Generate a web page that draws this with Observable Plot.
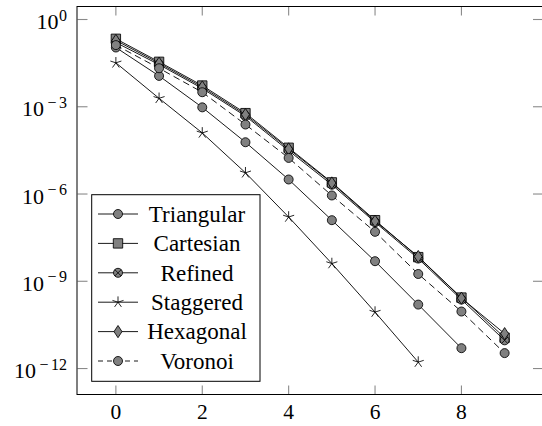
<!DOCTYPE html>
<html><head><meta charset="utf-8">
<script src="https://cdn.jsdelivr.net/npm/d3@7"></script>
<script src="https://cdn.jsdelivr.net/npm/@observablehq/plot@0.6"></script>
<style>
body{margin:0;background:#fff;}
#wrap{position:relative;width:542px;height:426px;overflow:hidden;font-family:"Liberation Serif","Times New Roman",serif;}
#legend{position:absolute;left:0;top:0;}
</style></head><body><div id="wrap"></div>
<script>
// ---- data ----
const steps = [0, 1, 2, 3, 4, 5, 6, 7, 8, 9];
const seriesNames = ["Triangular", "Cartesian", "Refined", "Staggered", "Hexagonal", "Voronoi"];
const triangular = [1.09e-1, 1.15e-2, 9.55e-4, 6.03e-5, 3.16e-6, 1.26e-7, 4.90e-9, 1.58e-10, 5.01e-12];
const cartesian  = [2.17e-1, 3.51e-2, 5.37e-3, 6.03e-4, 3.89e-5, 2.51e-6, 1.26e-7, 6.76e-9, 2.75e-10, 1.15e-11];
const refined    = [1.62e-1, 2.82e-2, 4.27e-3, 4.79e-4, 3.09e-5, 2.09e-6, 1.07e-7, 6.03e-9, 2.34e-10, 9.33e-12];
const staggered  = [3.24e-2, 1.95e-3, 1.26e-4, 5.37e-6, 1.62e-7, 4.07e-9, 8.71e-11, 1.66e-12];
const hexagonal  = [1.91e-1, 3.16e-2, 4.79e-3, 5.37e-4, 3.55e-5, 2.40e-6, 1.17e-7, 7.08e-9, 2.63e-10, 1.58e-11];
const voronoi    = [1.32e-1, 2.11e-2, 3.16e-3, 2.45e-4, 1.74e-5, 8.91e-7, 5.01e-8, 1.78e-9, 9.12e-11, 3.39e-12];
const xTicks = [0, 2, 4, 6, 8];
const yTicks = [1e0, 1e-3, 1e-6, 1e-9, 1e-12];
const xDomain = [-0.9, 9.9];
const yDomain = [1.28e-13, 2.8];

const valuesBySeries = {Triangular: triangular, Cartesian: cartesian, Refined: refined,
  Staggered: staggered, Hexagonal: hexagonal, Voronoi: voronoi};

const rows = seriesNames.flatMap(s => valuesBySeries[s].map((v, i) => ({series: s, x: steps[i], y: v})));

// ---- marker symbols (pgfplots-like) ----
const symSquare = {draw(ctx, size) {const r = Math.sqrt(size / Math.PI); ctx.rect(-r, -r, 2 * r, 2 * r);}};
const symDiamond = {draw(ctx, size) {const r = Math.sqrt(size / Math.PI);
  ctx.moveTo(0, -r * 1.3); ctx.lineTo(r * 0.85, 0); ctx.lineTo(0, r * 1.3); ctx.lineTo(-r * 0.85, 0); ctx.closePath();}};
const symStar = {draw(ctx, size) {const r = Math.sqrt(size / Math.PI);
  for (let k = 0; k < 5; k++) {const a = (-90 + 72 * k) * Math.PI / 180; ctx.moveTo(0, 0); ctx.lineTo(r * Math.cos(a), r * Math.sin(a));}}};
const symCirc = {draw(ctx, size) {const r = Math.sqrt(size / Math.PI); ctx.moveTo(r, 0); ctx.arc(0, 0, r, 0, 2 * Math.PI); ctx.closePath();}};
const symX = {draw(ctx, size) {const r = Math.sqrt(size / Math.PI) * 0.7071;
  ctx.moveTo(-r, -r); ctx.lineTo(r, r); ctx.moveTo(-r, r); ctx.lineTo(r, -r);}};

const GRAY = "#808080";
const styles = {
  Triangular: [{symbol: symCirc, r: 4.5, fill: GRAY}],
  Cartesian: [{symbol: symSquare, r: 4.7, fill: GRAY}],
  Refined: [{symbol: symCirc, r: 4.5, fill: GRAY}, {symbol: symX, r: 4.5, fill: "none"}],
  Staggered: [{symbol: symStar, r: 5.8, fill: "none"}],
  Hexagonal: [{symbol: symDiamond, r: 4.7, fill: GRAY}],
  Voronoi: [{symbol: symCirc, r: 4.5, fill: GRAY}]
};
const dashes = {Voronoi: "6,5"};

const marks = [];
for (const s of seriesNames) {
  const d = rows.filter(r => r.series === s);
  marks.push(Plot.line(d, {x: "x", y: "y", stroke: "black", strokeWidth: 0.9,
    strokeDasharray: dashes[s] || null}));
  for (const st of styles[s]) {
    marks.push(Plot.dot(d, {x: "x", y: "y", symbol: st.symbol, r: st.r, fill: st.fill,
      stroke: "black", strokeWidth: 0.85}));
  }
}

const tickStroke = "#8a8a8a";
const chart = Plot.plot({
  width: 542, height: 426,
  marginLeft: 76.5, marginRight: -1, marginTop: 6, marginBottom: 32,
  style: {fontFamily: "'Liberation Serif','Times New Roman',serif", background: "white", color: "black"},
  x: {domain: xDomain, label: null},
  y: {type: "log", domain: yDomain, label: null},
  marks: [
    // inward ticks on all four sides
    Plot.axisX({ticks: xTicks, anchor: "top", frameAnchor: "bottom", tickSize: 9.5, fill: "none", stroke: tickStroke, strokeWidth: 1.1, label: null}),
    Plot.axisX({ticks: xTicks, anchor: "bottom", frameAnchor: "top", tickSize: 9.5, fill: "none", stroke: tickStroke, strokeWidth: 1.1, label: null}),
    Plot.axisY({ticks: yTicks, anchor: "right", frameAnchor: "left", tickSize: 10, fill: "none", stroke: tickStroke, strokeWidth: 1.1, label: null}),
    Plot.axisY({ticks: yTicks, anchor: "left", frameAnchor: "right", tickSize: 10, fill: "none", stroke: tickStroke, strokeWidth: 1.1, label: null}),
    // labels
    Plot.axisX({ticks: xTicks, anchor: "bottom", tickSize: 0, tickPadding: 9, fontSize: 21.5, fill: "black", tickFormat: d => String(d), label: null}),
    Plot.axisY({ticks: yTicks, anchor: "left", tickSize: 0, tickPadding: 10, fontSize: 22, fill: "black",
      tickFormat: d => String(Math.round(Math.log10(d))), label: null}),
    ...marks,
    Plot.frame({stroke: "black", strokeWidth: 1})
  ]
});

// superscript exponents on the y tick labels: 10^e
d3.select(chart).selectAll('g[aria-label="y-axis tick label"] text').each(function () {
  const t = d3.select(this);
  const e = +t.text();
  t.text("");
  t.attr("transform", (t.attr("transform") || "") + " translate(0,2.5)");
  t.append("tspan").text("10");
  if (e === 0) {
    t.append("tspan").attr("dy", -8.5).attr("dx", 0.5).attr("font-size", 16).text("0");
  } else {
    t.append("tspan").attr("dy", -8.5).attr("dx", 3.5).attr("font-size", 16).text("\u2212");
    t.append("tspan").attr("dx", 2.5).attr("font-size", 16).text(String(Math.abs(e)));
  }
});

const wrap = document.getElementById("wrap");
wrap.appendChild(chart);

// ---- legend (overlay inside the plot area) ----
const lg = d3.select(wrap).append("svg").attr("id", "legend").attr("width", 542).attr("height", 426);
const box = {x: 91.7, y: 194.7, w: 168.3, h: 186.6};
lg.append("rect").attr("x", box.x).attr("y", box.y).attr("width", box.w).attr("height", box.h)
  .attr("fill", "white").attr("stroke", "black").attr("stroke-width", 1);
seriesNames.forEach((s, i) => {
  const cy = 214 + 29.4 * i;
  lg.append("line").attr("x1", 98).attr("x2", 138).attr("y1", cy).attr("y2", cy)
    .attr("stroke", "black").attr("stroke-width", 0.9).attr("stroke-dasharray", dashes[s] ? "5,4" : null);
  for (const st of styles[s]) {
    lg.append("path").attr("transform", `translate(118,${cy})`)
      .attr("d", d3.symbol(st.symbol, st.r * st.r * Math.PI)())
      .attr("fill", st.fill).attr("stroke", "black").attr("stroke-width", 0.85);
  }
  lg.append("text").attr("x", 197).attr("y", cy + 7.8).attr("text-anchor", "middle")
    .attr("font-size", 23).attr("font-family", "'Liberation Serif','Times New Roman',serif").text(s);
});
</script></body></html>
